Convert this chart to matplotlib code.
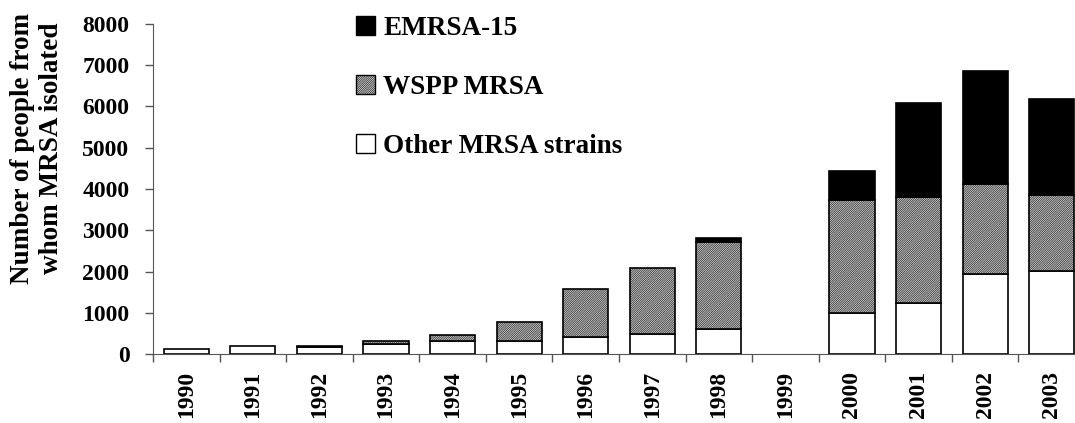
import matplotlib
matplotlib.use("Agg")
import matplotlib.pyplot as plt
from matplotlib.patches import Patch
import numpy as np

plt.rcParams['font.family'] = ['Liberation Serif', 'DejaVu Serif']
plt.rcParams['font.weight'] = 'bold'
plt.rcParams['hatch.linewidth'] = 0.45

# data
years = ["1990", "1991", "1992", "1993", "1994", "1995", "1996",
         "1997", "1998", "1999", "2000", "2001", "2002", "2003"]
other = [125, 194, 180, 234, 322, 322, 420, 484, 605, 0, 985, 1242, 1937, 2017]
wspp = [0, 0, 15, 75, 145, 445, 1146, 1598, 2107, 0, 2744, 2567, 2179, 1833]
emrsa = [0, 0, 0, 0, 0, 0, 0, 0, 97, 0, 709, 2276, 2736, 2332]

W, H = 1075, 423
fig = plt.figure(figsize=(W / 100, H / 100), dpi=100)
left, right, top, bottom = 153, 1085, 24, 354
ax = fig.add_axes([left / W, 1 - bottom / H, (right - left) / W, (bottom - top) / H])

x = np.arange(len(years))
other = np.array(other)
wspp = np.array(wspp)
emrsa = np.array(emrsa)
bw = 0.68
ew = 1.2
HATCH = "/" * 18


def stack(vals, base, **kw):
    # skip empty segments so zero heights draw no stray edge line
    m = vals > 0
    ax.bar(x[m], vals[m], bw, bottom=base[m], edgecolor="black", linewidth=ew, **kw)


stack(other, np.zeros_like(other), color="white")
stack(wspp, other, color="white", hatch=HATCH)
stack(emrsa, other + wspp, color="black")

ax.set_xlim(-0.5, len(years) - 0.5)
ax.set_ylim(0, 8000)
ax.set_yticks(range(0, 8001, 1000))
ax.set_xticks(x)
ax.set_xticklabels(years, rotation=90, fontsize=17, fontweight="bold")
ax.set_xticks(np.arange(-0.5, len(years), 1), minor=True)
ax.tick_params(axis="x", which="major", length=0, pad=12)
ax.tick_params(axis="x", which="minor", length=6, width=1, color="#555555", direction="out")
ax.tick_params(axis="y", length=6, width=1, color="#555555", pad=11, labelsize=17)
for lab in ax.get_yticklabels():
    lab.set_fontweight("bold")

for s in ["top", "right"]:
    ax.spines[s].set_visible(False)
ax.spines["left"].set_color("#555555")
ax.spines["bottom"].set_color("#555555")

fig.text(37 / W, 1 - 148 / H, "Number of people from\nwhom MRSA isolated",
         rotation=90, ha="center", va="center", fontsize=19.5,
         fontweight="bold", multialignment="center", linespacing=1.25)

handles = [
    Patch(facecolor="black", edgecolor="black", linewidth=1),
    Patch(facecolor="white", edgecolor="black", linewidth=1, hatch=HATCH),
    Patch(facecolor="white", edgecolor="black", linewidth=1),
]
labels = ["EMRSA-15", "WSPP MRSA", "Other MRSA strains"]
leg = fig.legend(handles, labels, loc="upper left",
                 bbox_to_anchor=(356 / W, 1 - 16 / H), frameon=False,
                 prop={"family": "Liberation Serif", "weight": "bold", "size": 19.5},
                 handlelength=0.7, handleheight=0.7, handletextpad=0.3,
                 labelspacing=1.25, borderpad=0, borderaxespad=0)

fig.savefig("out.png", dpi=100)
